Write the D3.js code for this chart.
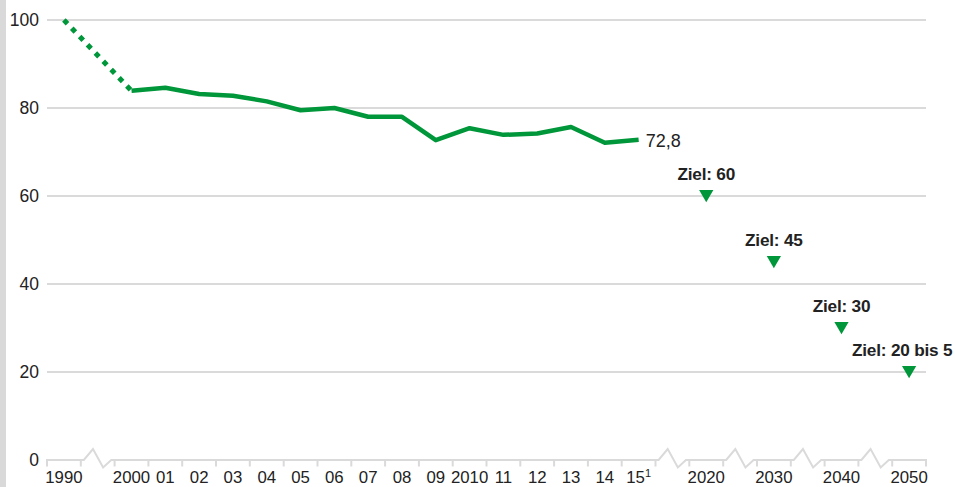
<!DOCTYPE html>
<html>
<head>
<meta charset="utf-8">
<script src="https://cdn.jsdelivr.net/npm/d3@7"></script>
<style>
  html, body { margin: 0; padding: 0; background: #fff; overflow: hidden; }
  svg { display: block; font-family: "Liberation Sans", Arial, Helvetica, sans-serif; }
</style>
</head>
<body>
<svg id="chart" width="955" height="487"></svg>
<script>
// Treibhausgas-Emissionen, Index 1990 = 100
const years = ["1990", "2000", "2001", "2002", "2003", "2004", "2005", "2006", "2007",
               "2008", "2009", "2010", "2011", "2012", "2013", "2014", "2015"];
const values = [100, 83.9, 84.6, 83.2, 82.8, 81.5, 79.5, 80.0, 78.0,
                78.0, 72.7, 75.4, 73.9, 74.2, 75.7, 72.1, 72.8];
const targetYears = ["2020", "2030", "2040", "2050"];
const targetValues = [60, 45, 30, 20];
const targetLabels = ["60", "45", "30", "20 bis 5"];
const tickLabels = ["1990", "2000", "01", "02", "03", "04", "05", "06", "07", "08",
                    "09", "2010", "11", "12", "13", "14", "15", "2020", "2030", "2040", "2050"];
const yTicks = [0, 20, 40, 60, 80, 100];
const lastLabel = "72,8";

// Slots along the axis; "gap" slots carry the axis break
const slots = ["1990", "gap1", ...years.slice(1), "gap2", "2020", "gap3", "2030", "gap4", "2040", "gap5", "2050"];
const labelSlots = ["1990", ...years.slice(1), ...targetYears];

const green = "#00963a";
const grey = "#dadada";
const W = 955;

const svg = d3.select("#chart");
const x = d3.scaleBand().domain(slots).range([47, 926]).padding(0);
const y = d3.scaleLinear().domain([0, 100]).range([460, 20]);
const cx = k => x(k) + x.bandwidth() / 2;

// left side bar
svg.append("rect").attr("x", 0).attr("y", 0).attr("width", 6).attr("height", 487).attr("fill", "#d9d9d9");

// gridlines
svg.append("g").selectAll("line").data(yTicks.filter(d => d > 0)).join("line")
  .attr("x1", 47).attr("x2", 926)
  .attr("y1", d => y(d)).attr("y2", d => y(d))
  .attr("stroke", grey).attr("stroke-width", 2);

// y labels
svg.append("g").selectAll("text").data(yTicks).join("text")
  .attr("x", 39).attr("y", d => y(d)).attr("dy", "0.36em")
  .attr("text-anchor", "end").attr("font-size", 17.5).attr("fill", "#222")
  .text(d => d);

// x axis with breaks
const y0 = y(0);
const bw = x.bandwidth();
const axisPts = [];
slots.forEach(s => {
  const a = x(s);
  if (s.startsWith("gap")) {
    axisPts.push([a, y0], [a + 0.09 * bw, y0], [a + 0.36 * bw, y0 - 11],
                 [a + 0.66 * bw, y0 + 7.5], [a + 0.9 * bw, y0], [a + bw, y0]);
  } else {
    axisPts.push([a, y0], [a + bw, y0]);
  }
});
svg.append("path").attr("d", d3.line()(axisPts))
  .attr("fill", "none").attr("stroke", grey).attr("stroke-width", 2).attr("stroke-linejoin", "miter");

// tick marks at band edges of labelled slots
const tickXs = [];
labelSlots.forEach(s => { tickXs.push(x(s), x(s) + bw); });
svg.append("g").selectAll("line").data(Array.from(new Set(tickXs.map(v => Math.round(v * 10) / 10)))).join("line")
  .attr("x1", d => d).attr("x2", d => d)
  .attr("y1", y0 - 1).attr("y2", y0 + 6.5)
  .attr("stroke", grey).attr("stroke-width", 2);

// x labels
const xl = svg.append("g").selectAll("text").data(labelSlots).join("text")
  .attr("x", d => cx(d)).attr("y", 483)
  .attr("text-anchor", "middle").attr("font-size", 16.8).attr("fill", "#222");
xl.each(function(d, i) {
  const t = d3.select(this);
  if (d === "2015") {
    t.append("tspan").text(tickLabels[i]);
    t.append("tspan").attr("font-size", 11).attr("dy", -6).text("1");
  } else {
    t.text(tickLabels[i]);
  }
});

// dotted part 1990 -> 2000
const line = d3.line().x(d => cx(d[0])).y(d => y(d[1]));
const series = years.map((yr, i) => [yr, values[i]]);
svg.append("path").attr("d", line(series.slice(0, 2)))
  .attr("fill", "none").attr("stroke", green).attr("stroke-width", 5)
  .attr("stroke-dasharray", "5.2,6.2");

// solid part 2000 -> 2015
svg.append("path").attr("d", line(series.slice(1)))
  .attr("fill", "none").attr("stroke", green).attr("stroke-width", 4.5)
  .attr("stroke-linejoin", "round");

// end value label
const last = series[series.length - 1];
svg.append("text").attr("x", cx(last[0]) + 7).attr("y", y(last[1]) + 7)
  .attr("font-size", 18).attr("fill", "#222").text(lastLabel);

// target markers
const tri = d3.symbol().type(d3.symbolTriangle).size(88);
const tg = svg.append("g").selectAll("g").data(targetYears.map((t, i) => ({ t, v: targetValues[i], l: targetLabels[i] }))).join("g");
tg.append("path")
  .attr("d", tri)
  .attr("transform", d => `translate(${cx(d.t)},${y(d.v) - 2}) rotate(180)`)
  .attr("fill", green);
tg.append("text")
  .attr("x", d => cx(d.t)).attr("y", d => y(d.v) - 16)
  .attr("text-anchor", "middle").attr("font-size", 17.2).attr("font-weight", "bold")
  .attr("fill", "#222").attr("letter-spacing", "-0.2")
  .text(d => `Ziel: ${d.l}`)
  .each(function() {
    // keep labels inside the right edge
    const b = this.getBBox();
    const over = b.x + b.width - (W - 2);
    if (over > 0) d3.select(this).attr("x", +d3.select(this).attr("x") - over);
  });
</script>
</body>
</html>
